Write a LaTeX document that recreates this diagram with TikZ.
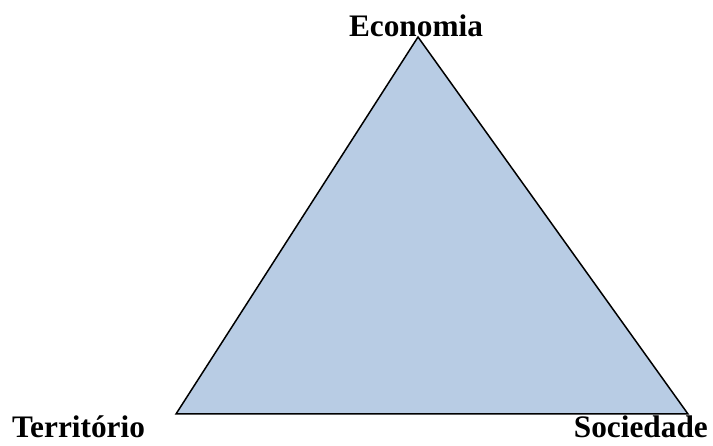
\documentclass[tikz,border=0pt]{standalone}
\usepackage{fontspec}
\setmainfont{Liberation Serif}
\definecolor{trifill}{HTML}{B8CCE4}
\begin{document}
\begin{tikzpicture}[x=1pt,y=-1pt,
  lbl/.style={font=\fontsize{31.3}{36}\selectfont\bfseries, inner sep=0pt}]
\useasboundingbox (0,0) rectangle (713,446);
\coordinate (top) at (418,37);
\coordinate (bl) at (176,414);
\coordinate (br) at (688,414);
\draw[fill=trifill, line width=1.5pt, line join=miter] (top) -- (bl) -- (br) -- cycle;
\node[lbl, anchor=base] (econ) at (416,37) {Economia};
\node[lbl, anchor=base west] (terr) at (12,438) {Território};
\node[lbl, anchor=base east] (soc) at (708,438) {Sociedade};
\end{tikzpicture}
\end{document}
